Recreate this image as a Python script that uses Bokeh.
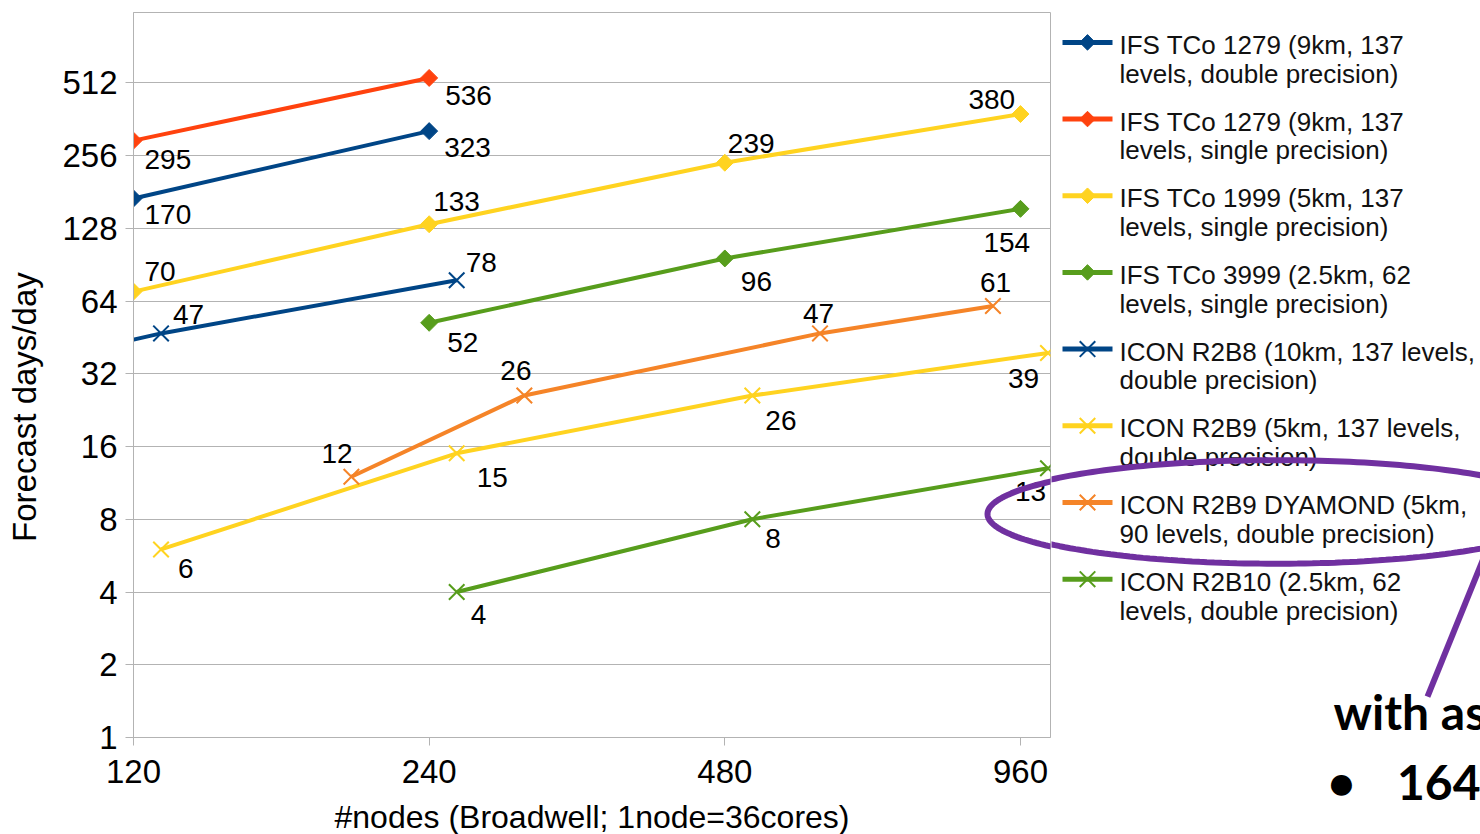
import numpy as np
from bokeh.plotting import figure
from bokeh.layouts import row
from bokeh.models import Range1d, FixedTicker, PolyAnnotation, PrintfTickFormatter
from bokeh.core.properties import value
from bokeh.embed import file_html
from bokeh.resources import INLINE

# ---------------- data ----------------
x_ticks = [120, 240, 480, 960]
y_ticks = [1, 2, 4, 8, 16, 32, 64, 128, 256, 512]

ifs1279_dp_nodes = [120, 240]
ifs1279_dp_speed = [170, 323]
ifs1279_sp_nodes = [120, 240]
ifs1279_sp_speed = [295, 536]
ifs1999_nodes = [120, 240, 480, 960]
ifs1999_speed = [70, 133, 239, 380]
ifs3999_nodes = [240, 480, 960]
ifs3999_speed = [52, 96, 154]
r2b8_nodes = [64, 128, 256]
r2b8_speed = [25, 47, 78]
r2b9_nodes = [128, 256, 512, 1024]
r2b9_speed = [6, 15, 26, 39]
dyamond_nodes = [200, 300, 600, 900]
dyamond_speed = [12, 26, 47, 61]
r2b10_nodes = [256, 512, 1024]
r2b10_speed = [4, 8, 13]

legend_labels = [
    ("IFS TCo 1279 (9km, 137", "levels, double precision)"),
    ("IFS TCo 1279 (9km, 137", "levels, single precision)"),
    ("IFS TCo 1999 (5km, 137", "levels, single precision)"),
    ("IFS TCo 3999 (2.5km, 62", "levels, single precision)"),
    ("ICON R2B8 (10km, 137 levels,", "double precision)"),
    ("ICON R2B9 (5km, 137 levels,", "double precision)"),
    ("ICON R2B9 DYAMOND (5km,", "90 levels, double precision)"),
    ("ICON R2B10 (2.5km, 62", "levels, double precision)"),
]
slide_heading = "with as"
slide_bullet = {1341: "\u2022", 1456: "164"}

# ---------------- styles ----------------
BLUE, RED, YELLOW, GREEN, ORANGE = "#004586", "#ff420e", "#ffd320", "#579d1c", "#f58428"
PURPLE = "#7030a0"
FONT = "Liberation Sans"
GRID = "#b3b3b3"

# per-label offsets (px: left-edge dx, centre dy downward)
series = [
    (ifs1279_dp_nodes, ifs1279_dp_speed, BLUE, "diamond", [(11, 16), (15, 16)]),
    (ifs1279_sp_nodes, ifs1279_sp_speed, RED, "diamond", [(11, 19), (16, 18)]),
    (ifs1999_nodes, ifs1999_speed, YELLOW, "diamond", [(11, -20), (4, -23), (3, -19), (-52, -15)]),
    (ifs3999_nodes, ifs3999_speed, GREEN, "diamond", [(18, 20), (16, 23), (-37, 34)]),
    (r2b8_nodes, r2b8_speed, BLUE, "x", [(12, -19), (12, -19), (9, -18)]),
    (r2b9_nodes, r2b9_speed, YELLOW, "x", [(17, 19), (20, 24), (13, 25), (-40, 26)]),
    (dyamond_nodes, dyamond_speed, ORANGE, "x", [(-30, -23), (-24, -25), (-17, -20), (-13, -24)]),
    (r2b10_nodes, r2b10_speed, GREEN, "x", [(14, 22), (13, 19), (-33, 23)]),
]

W, H = 1480, 834
FL, FR, FT, FB = 133, 1050, 12, 737
SPLIT = 1051

p = figure(frame_width=FR - FL, frame_height=FB - FT, x_axis_type="log", y_axis_type="log",
           x_range=Range1d(120, 1030), y_range=Range1d(1, 1000),
           min_border_left=FL, min_border_right=SPLIT - FR, min_border_top=FT,
           min_border_bottom=H - FB, toolbar_location=None, output_backend="svg")
p.background_fill_color = "white"
p.border_fill_color = "white"
p.outline_line_color = GRID
p.outline_line_width = 1

p.xaxis.ticker = FixedTicker(ticks=x_ticks, minor_ticks=[])
p.yaxis.ticker = FixedTicker(ticks=y_ticks, minor_ticks=[])
for ax in (p.xaxis, p.yaxis):
    ax.formatter = PrintfTickFormatter(format="%d")
    ax.axis_line_color = GRID
    ax.major_tick_line_color = GRID
    ax.major_tick_out = 8
    ax.major_tick_in = 0
    ax.minor_tick_line_color = None
    ax.major_label_text_font = FONT
    ax.major_label_text_font_size = "33px"
    ax.major_label_text_color = "black"
    ax.axis_label_text_font = FONT
    ax.axis_label_text_font_style = "normal"
    ax.axis_label_text_color = "black"
p.xaxis.major_label_standoff = 14
p.yaxis.major_label_standoff = 8
p.xaxis.axis_label = "#nodes (Broadwell; 1node=36cores)"
p.xaxis.axis_label_text_font_size = "32px"
p.xaxis.axis_label_standoff = 13
p.yaxis.axis_label = "Forecast days/day" + "\u00a0" * 7
p.yaxis.axis_label_text_font_size = "33px"
p.yaxis.axis_label_standoff = 16
p.xgrid.visible = False
p.ygrid.grid_line_color = GRID
p.ygrid.grid_line_width = 1

for nodes, speed, color, marker, offs in series:
    p.line(nodes, speed, line_color=color, line_width=4)
    if marker == "diamond":
        p.scatter(nodes, speed, marker="square", angle=np.pi / 4, size=12,
                  fill_color=color, line_color=color)
    else:
        p.scatter(nodes, speed, marker="x", size=22, line_color=color, line_width=2)
    p.text(nodes, speed, text=[str(v) for v in speed],
           x_offset=[o[0] for o in offs], y_offset=[o[1] for o in offs],
           text_align="left", text_baseline="middle",
           text_font=value(FONT), text_font_size="28px", text_color="black")

# ellipse geometry in page pixels
t = np.linspace(0, 2 * np.pi, 240)
ex = 1276 + 289 * np.cos(t)
ey = 513.5 + 52 * np.sin(t)

# part of the ellipse that lies inside the chart frame (frame-relative screen units)
p.add_layout(PolyAnnotation(xs=list(ex - FL), ys=list(FB - ey),
                            xs_units="screen", ys_units="screen",
                            fill_alpha=0, line_color=PURPLE, line_alpha=1, line_width=6))

# ---------------- right panel: legend + slide annotation ----------------
# its frame is aligned with the chart frame (rows FT..FB), data y == page y
q = figure(width=W - SPLIT, height=H, x_range=Range1d(SPLIT, W), y_range=Range1d(FB, FT),
           min_border_left=0, min_border_right=0, min_border_top=FT, min_border_bottom=H - FB,
           toolbar_location=None, output_backend="svg", y_axis_location=None)
q.outline_line_color = None
q.xgrid.visible = False
q.ygrid.visible = False
q.background_fill_color = "white"
q.border_fill_color = "white"
# bullet line of the slide, rendered as the panel's bottom tick labels
q.xaxis.ticker = FixedTicker(ticks=list(slide_bullet.keys()), minor_ticks=[])
q.xaxis.major_label_overrides = {k: v for k, v in slide_bullet.items()}
q.xaxis.axis_line_color = None
q.xaxis.major_tick_line_color = None
q.xaxis.minor_tick_line_color = None
q.xaxis.major_tick_out = 0
q.xaxis.major_tick_in = 0
q.xaxis.major_label_standoff = 18
q.xaxis.major_label_text_font = "Lato"
q.xaxis.major_label_text_font_style = "bold"
q.xaxis.major_label_text_font_size = "48px"
q.xaxis.major_label_text_color = "black"

legend_colors = [BLUE, RED, YELLOW, GREEN, BLUE, YELLOW, ORANGE, GREEN]
legend_markers = ["diamond"] * 4 + ["x"] * 4
LX0, LX1, LXM, LTX = 1062, 1112, 1087, 1119
for i, ((l1, l2), col, mk) in enumerate(zip(legend_labels, legend_colors, legend_markers)):
    yc = 42 + 77 * i
    q.line([LX0, LX1], [yc, yc], line_color=col, line_width=5)
    if mk == "diamond":
        q.scatter([LXM], [yc], marker="square", angle=np.pi / 4, size=11,
                  fill_color=col, line_color=col)
    else:
        q.scatter([LXM], [yc], marker="x", size=22, line_color=col, line_width=2)
    q.text([LTX, LTX], [yc + 2.5, yc + 31.5], text=[l1, l2], text_align="left",
           text_baseline="middle", text_font=value(FONT), text_font_size="26px",
           text_color="#111111")

q.line(ex, ey, line_color=PURPLE, line_width=6)
q.line([1483, 1427], [560, 699], line_color=PURPLE, line_width=6)

q.text([1333], [714], text=[slide_heading], text_align="left", text_baseline="middle",
       text_font=value("Lato"), text_font_style="bold", text_font_size="48px",
       text_color="black")

layout = row(p, q, spacing=0)
open("out.html", "w").write(file_html(layout, INLINE))
